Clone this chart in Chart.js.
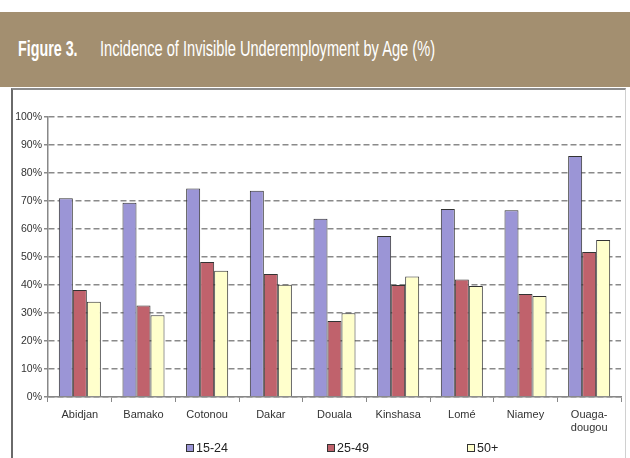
<!DOCTYPE html>
<html lang="en">
<head>
<meta charset="UTF-8">
<title>Figure 3</title>
<style>
  body { margin: 0; background: #fff; width: 630px; height: 458px; overflow: hidden; position: relative; }
  .header { position: absolute; left: 0; top: 12px; width: 630px; height: 75px; background: #a38f70; }
  .header span { position: absolute; top: 24px; color: #fff; font-family: "Liberation Sans", Arial, sans-serif; font-size: 22px; white-space: nowrap; transform-origin: left top; }
  .header .num { left: 18px; font-weight: bold; transform: scaleX(0.65); }
  .header .txt { left: 100px; transform: scaleX(0.665); }
  .frame { position: absolute; left: 11px; top: 88px; width: 612px; height: 380px; border-top: 2px solid #8c8c8c; border-left: 2px solid #6a6a6a; border-right: 1px solid #d0d0d0; }
  .wrap { position: absolute; left: 0; top: 88px; width: 630px; height: 370px; }
</style>
</head>
<body>
<div class="header"><span class="num">Figure 3.</span><span class="txt">Incidence of Invisible Underemployment by Age (%)</span></div>
<div class="frame"></div>
<div class="wrap"><canvas id="myChart"></canvas></div>

<script src="https://cdn.jsdelivr.net/npm/chart.js"></script>
<script>
  const cities = ['Abidjan', 'Bamako', 'Cotonou', 'Dakar', 'Douala', 'Kinshasa', 'Lomé', 'Niamey', ['Ouaga-', 'dougou']];
  const age15to24 = [71, 69.4, 74.5, 73.7, 63.7, 57.5, 67.1, 66.7, 86.1];
  const age25to49 = [38.2, 32.7, 48.2, 43.9, 27.1, 40, 42, 36.8, 51.8];
  const age50plus = [34, 29.2, 45.1, 40.1, 29.9, 43, 39.6, 36.1, 56.1];
  const yTicks = [0, 10, 20, 30, 40, 50, 60, 70, 80, 90, 100];

  const font = '"Liberation Sans", Arial, sans-serif';

  // legend spread out under the plot like the original
  const spreadLegend = {
    id: 'spreadLegend',
    afterDraw(chart) {
      const c = chart.ctx;
      const xs = [186, 327, 467];
      const y = 360;
      c.save();
      c.font = '12.5px ' + font;
      c.textBaseline = 'middle';
      chart.data.datasets.forEach((ds, i) => {
        c.fillStyle = ds.backgroundColor;
        c.strokeStyle = '#333';
        c.lineWidth = 1;
        c.fillRect(xs[i] + 0.5, y - 3.5, 7, 7);
        c.strokeRect(xs[i] + 0.5, y - 3.5, 7, 7);
        c.fillStyle = '#222';
        c.fillText(ds.label, xs[i] + 10, y + 1);
      });
      c.restore();
    }
  };

  new Chart(document.getElementById('myChart'), {
    type: 'bar',
    data: {
      labels: cities,
      datasets: [
        { label: '15-24', data: age15to24, backgroundColor: '#9b95d6' },
        { label: '25-49', data: age25to49, backgroundColor: '#c0626c' },
        { label: '50+', data: age50plus, backgroundColor: '#ffffcc' }
      ]
    },
    options: {
      responsive: true,
      maintainAspectRatio: false,
      animation: false,
      layout: { padding: { left: 0, right: 9, top: 29, bottom: 0 } },
      datasets: {
        bar: { borderColor: '#333', borderWidth: 1, categoryPercentage: 0.66, barPercentage: 1 }
      },
      plugins: {
        legend: { display: false },
        tooltip: { enabled: false }
      },
      scales: {
        x: {
          grid: { offset: true, drawOnChartArea: false, color: '#888', tickLength: 5 },
          border: { color: '#888', width: 1.5 },
          ticks: { color: '#333', font: { family: font, size: 11 }, padding: 6, maxRotation: 0, autoSkip: false },
          afterFit(axis) { axis.height = 61; }
        },
        y: {
          min: 0,
          max: 100,
          afterBuildTicks(axis) { axis.ticks = yTicks.map(v => ({ value: v })); },
          grid: { color: '#8a8a8a', lineWidth: 1.5, tickLength: 4 },
          border: { color: '#888', width: 1.5, dash: [6, 3] },
          ticks: { color: '#333', font: { family: font, size: 10.5 }, padding: 2, callback: v => v + '%' },
          afterFit(axis) { axis.width = 48; }
        }
      }
    },
    plugins: [spreadLegend]
  });
</script>
</body>
</html>
